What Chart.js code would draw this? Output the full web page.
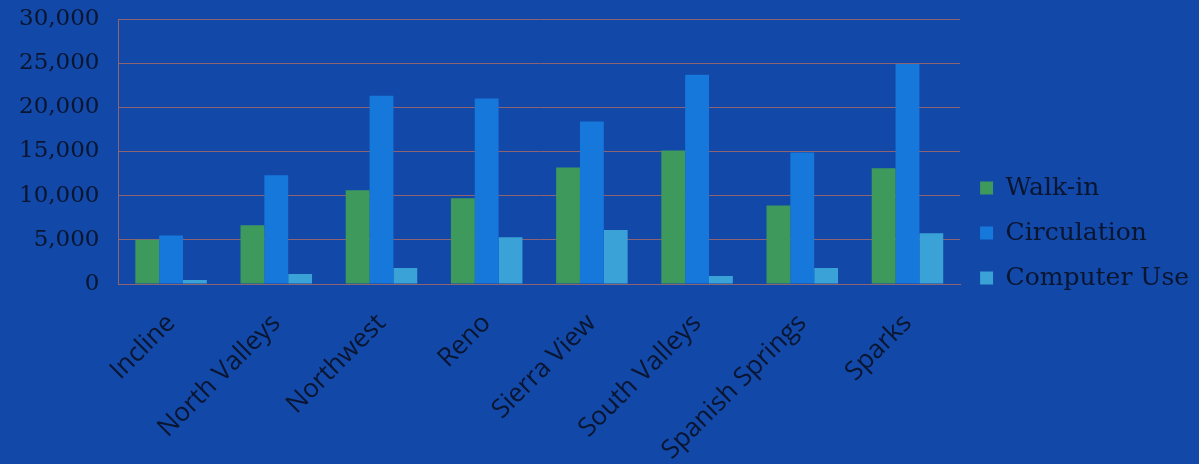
<!DOCTYPE html>
<html>
<head>
<meta charset="utf-8">
<script src="https://cdn.jsdelivr.net/npm/chart.js@4"></script>
<style>
  html, body { margin: 0; padding: 0; background: #1248a8; }
  #wrap { width: 1199px; height: 464px; }
</style>
</head>
<body>
<div id="wrap"><canvas id="chartCanvas"></canvas></div>
<script>
// branches
const branches = ['Incline', 'North Valleys', 'Northwest', 'Reno', 'Sierra View',
                  'South Valleys', 'Spanish Springs', 'Sparks'];

// values
const walkIn = [5000, 6650, 10600, 9700, 13200, 15100, 8900, 13100];
const circulation = [5500, 12300, 21300, 21000, 18400, 23700, 14900, 24900];
const computerUse = [450, 1130, 1800, 5300, 6100, 900, 1800, 5750];

const textColor = '#0a1530';
const gridColor = '#8f6470';

function makeDataset(label, data, color) {
    return {
        label: label,
        data: data,
        backgroundColor: color,
        borderWidth: 0,
        barPercentage: 1.0,
        categoryPercentage: 0.68
    };
}

const ctx = document.getElementById('chartCanvas').getContext('2d');
const chart = new Chart(ctx, {
    type: 'bar',
    data: {
        labels: branches,
        datasets: [
            makeDataset('Walk-in', walkIn, '#3e9a5c'),
            makeDataset('Circulation', circulation, '#1778dc'),
            makeDataset('Computer Use', computerUse, '#3aa2d6')
        ]
    },
    options: {
        responsive: true,
        maintainAspectRatio: false,
        animation: false,
        layout: { padding: { top: 2, right: 0, bottom: 0, left: 0 } },
        plugins: {
            tooltip: { enabled: false },
            legend: {
                display: true,
                position: 'right',
                labels: {
                    boxWidth: 13,
                    boxHeight: 13,
                    padding: 20,
                    color: textColor,
                    font: { family: 'DejaVu Serif', size: 25 }
                }
            }
        },
        scales: {
            x: {
                grid: { display: false },
                border: { display: true, color: gridColor },
                afterFit: function(scale) {
                    scale.height = 180; // keep axis line where the picture has it
                    scale.paddingLeft = 0;
                    scale.paddingRight = 0;
                },
                ticks: {
                    color: textColor,
                    minRotation: 45,
                    maxRotation: 45,
                    autoSkip: false,
                    padding: 16,
                    font: { family: 'Open Sans', size: 26 }
                }
            },
            y: {
                min: 0,
                max: 30000,
                grid: { color: gridColor, lineWidth: 1, drawTicks: false },
                border: { display: true, color: gridColor },
                ticks: {
                    stepSize: 5000,
                    color: textColor,
                    padding: 19,
                    font: { family: 'DejaVu Serif', size: 23, lineHeight: '0px' },
                    callback: function(value) {
                        return value.toLocaleString('en-US');
                    }
                }
            }
        }
    }
});
</script>
</body>
</html>
